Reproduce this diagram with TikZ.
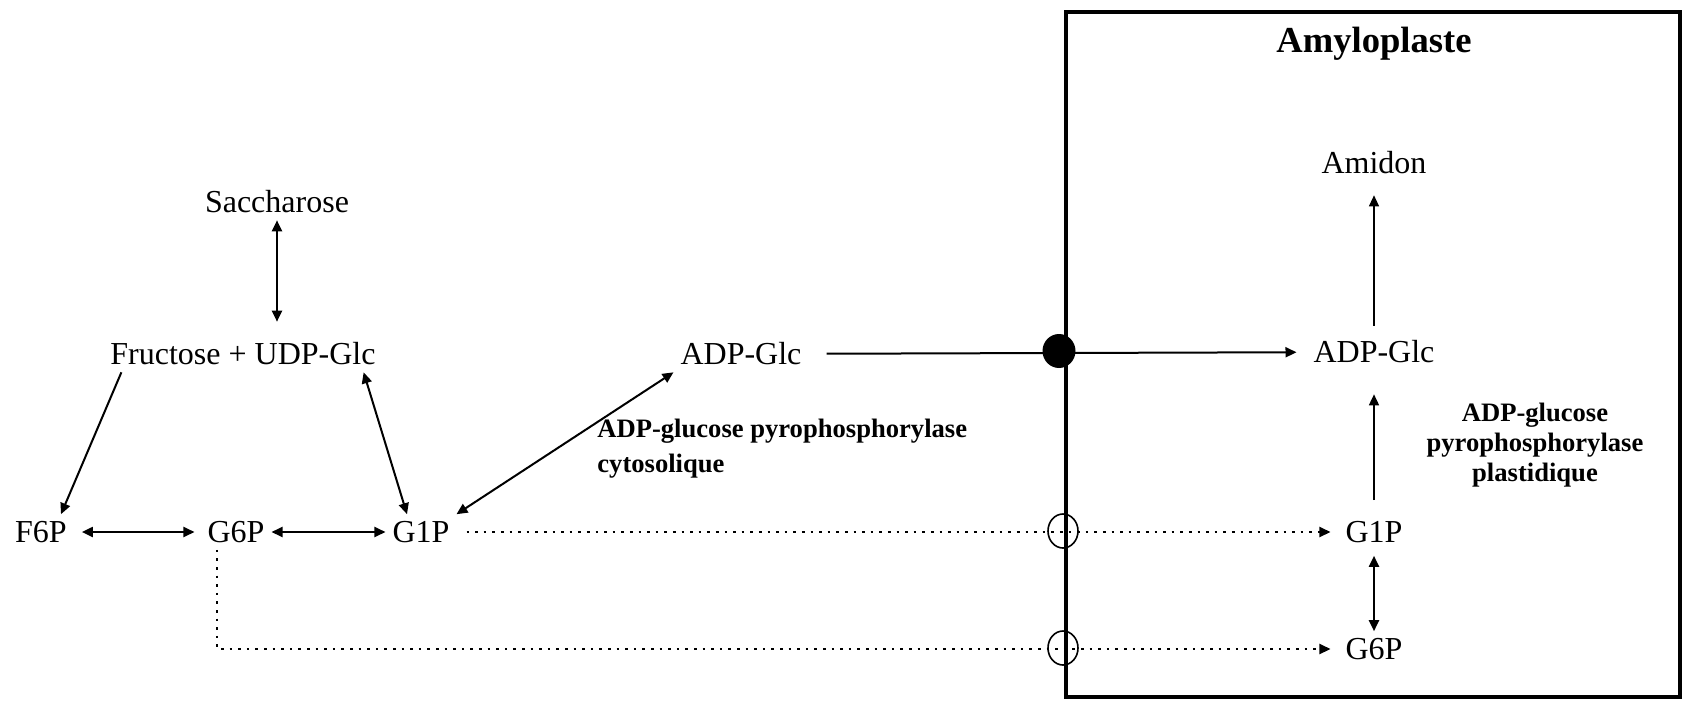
\documentclass[tikz,border=0pt]{standalone}
\usepackage{fontspec}
\setmainfont{Liberation Serif}
\usetikzlibrary{arrows.meta,shapes.geometric}

\begin{document}
\begin{tikzpicture}[
    x=0.5pt, y=-0.5pt,
    met/.style={font=\fontsize{16}{19}\selectfont},
    enz/.style={font=\fontsize{13.3}{15}\selectfont\bfseries, inner sep=0pt},
    arr/.style={-{Triangle[length=5.5pt,width=5pt]}, line width=1pt},
    darr/.style={{Triangle[length=5.5pt,width=5pt]}-{Triangle[length=5.5pt,width=5pt]}, line width=1pt},
    dotarr/.style={-{Triangle[length=5.5pt,width=5pt]}, line width=1.1pt, dash pattern=on 1.3pt off 3pt},
    pore/.style={ellipse, draw, line width=0.8pt, minimum width=15pt, minimum height=17pt, inner sep=0pt},
    pump/.style={ellipse, fill=black, minimum width=16.5pt, minimum height=17pt, inner sep=0pt}
  ]
  \useasboundingbox (0,0) rectangle (1683,702);

  % amyloplast envelope
  \draw[line width=2.2pt] (1066,12) rectangle (1680,697);
  \node[font=\fontsize{18.3}{22}\selectfont\bfseries, anchor=base] (title) at (1374,52) {Amyloplaste};

  % cytosol
  \node[met] (sac) at (277,202) {Saccharose};
  \node[met] (fru) at (243,354) {Fructose + UDP-Glc};
  \node[met] (f6p) at (41,532) {F6P};
  \node[met] (g6p) at (236,532) {G6P};
  \node[met] (g1p) at (421,532) {G1P};
  \node[met] (adpc) at (741,354) {ADP-Glc};
  \node[enz, anchor=north west, align=left, font=\fontsize{13.3}{17.5}\selectfont\bfseries]
    (agpc) at (597,419) {ADP-glucose pyrophosphorylase\\cytosolique};

  % plastid
  \node[met] (amidon) at (1374,163) {Amidon};
  \node[met] (adpp) at (1374,352) {ADP-Glc};
  \node[met] (g1pp) at (1374,532) {G1P};
  \node[met] (g6pp) at (1374,649) {G6P};
  \node[enz, anchor=north, align=center] (agpp) at (1535,403) {ADP-glucose\\pyrophosphorylase\\plastidique};

  % transporters
  \node[pump] (adptr) at (1059,351) {};
  \node[pore] (g1ptr) at (1063,531) {};
  \node[pore] (g6ptr) at (1063,648) {};

  \draw[darr, shorten >=7pt] (sac.south) -- (sac.south |- fru.north);
  \draw[arr] ([xshift=9pt]fru.south west) -- ([xshift=10pt]f6p.north);
  \draw[darr] ([xshift=-9.5pt]fru.south east) -- ([xshift=-7pt]g1p.north);
  \draw[darr, shorten <=4pt, shorten >=3pt] (f6p) -- (g6p);
  \draw[darr] (g6p) -- (g1p);
  \draw[darr] (g1p.north east) -- (adpc.south west);
  \draw[arr, shorten <=9pt, shorten >=5pt] (adpc) -- (adpp);
  \draw[dotarr, shorten <=5pt, shorten >=4pt] (g1p) -- (g1pp);
  \draw[dotarr, shorten >=4pt] ([xshift=-9.5pt]g6p.south) |- (g6pp.west);
  \draw[arr, line width=0.6pt, shorten <=4pt, shorten >=7pt] (adpp) -- (amidon);
  \draw[arr, line width=0.8pt, shorten <=7pt, shorten >=12pt] (g1pp) -- (adpp);
  \draw[darr, shorten <=3pt] (g1pp) -- (g6pp);
\end{tikzpicture}
\end{document}
